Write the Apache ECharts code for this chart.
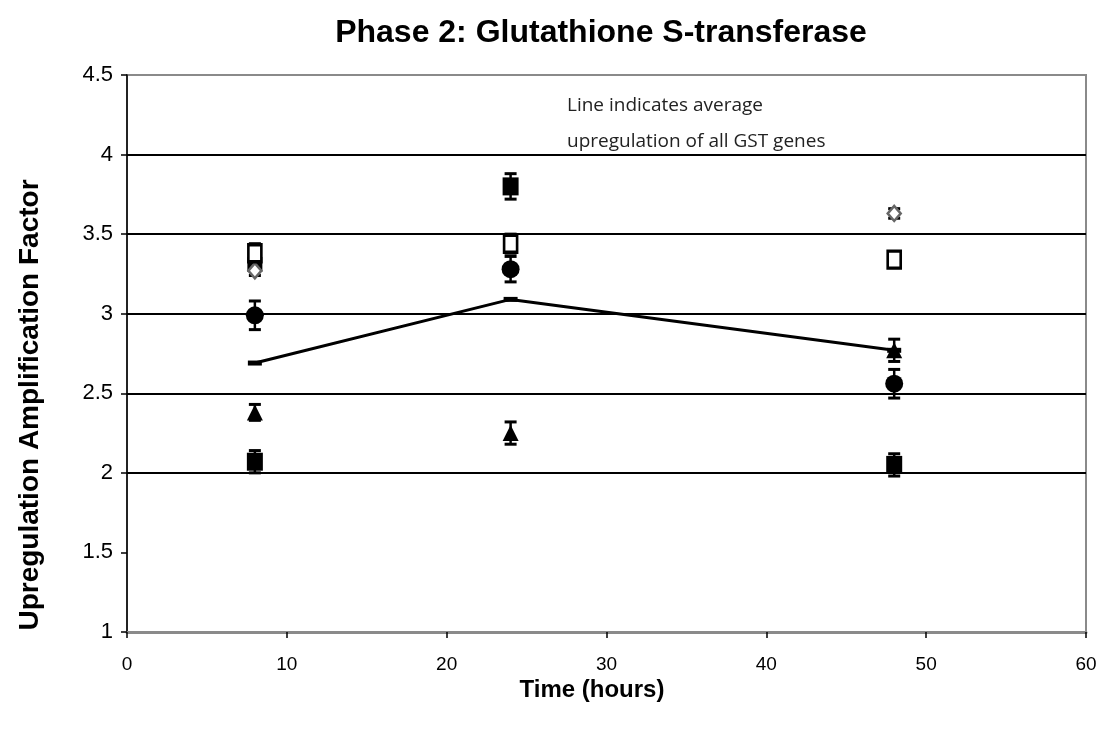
<!DOCTYPE html>
<html>
<head>
<meta charset="utf-8">
<script src="https://cdn.jsdelivr.net/npm/echarts@6/dist/echarts.min.js"></script>
<style>
  html, body { margin: 0; padding: 0; background: #fff; }
  #chart { width: 1102px; height: 736px; }
</style>
</head>
<body>
<div id="chart"></div>
<script>
// Time points (hours)
const hours = [8, 24, 48]

// Gene series (null = hidden / not visible)
const filledSquare = [2.07, 3.80, 2.05]
const filledSquareErr = [0.07, 0.08, 0.07]
const openSquare = [3.38, 3.44, 3.34]
const openSquareErr = [0.06, 0.06, 0.05]
const filledCircle = [2.99, 3.28, 2.56]
const filledCircleErr = [0.09, 0.08, 0.09]
const filledTriangle = [2.38, 2.25, 2.77]
const filledTriangleErr = [0.05, 0.07, 0.07]
const greyDiamond = [3.27, null, 3.63]
const greyDiamondErr = [0.03, 0, 0.03]
const hiddenSquare = [3.31, null, null]

// Average upregulation of all GST genes
const average = [2.69, 3.09, 2.77]

// Horizontal reference lines
const gridLines = [2, 2.5, 3, 3.5, 4]

const toPoints = vals => hours.map((h, i) => [h, vals[i]]).filter(p => p[1] != null)
const toErr = (vals, errs) => hours.map((h, i) => [h, vals[i], errs[i]]).filter(p => p[1] != null)

function errorBar(params, api) {
  const x = api.value(0)
  const y = api.value(1)
  const e = api.value(2)
  const top = api.coord([x, y + e])
  const bot = api.coord([x, y - e])
  const hw = 6
  const capStyle = { stroke: '#000', lineWidth: 3 }
  return {
    type: 'group',
    children: [
      { type: 'line', shape: { x1: top[0], y1: top[1], x2: bot[0], y2: bot[1] }, style: { stroke: '#000', lineWidth: 2.5 } },
      { type: 'line', shape: { x1: top[0] - hw, y1: top[1], x2: top[0] + hw, y2: top[1] }, style: capStyle },
      { type: 'line', shape: { x1: bot[0] - hw, y1: bot[1], x2: bot[0] + hw, y2: bot[1] }, style: capStyle },
    ],
  }
}

const errSeries = (vals, errs) => ({
  type: 'custom',
  renderItem: errorBar,
  data: toErr(vals, errs),
  encode: { x: 0, y: 1 },
  z: 3,
  silent: true,
})

const scatter = (vals, symbol, size, fill, stroke, bw) => ({
  type: 'scatter',
  data: toPoints(vals),
  symbol,
  symbolSize: size,
  itemStyle: { color: fill, borderColor: stroke, borderWidth: bw, opacity: 1 },
  z: 4,
})

const chart = echarts.init(document.getElementById('chart'))

chart.setOption({
  animation: false,
  backgroundColor: '#fff',
  grid: {
    left: 127, right: 16, top: 75, bottom: 104,
    show: true, borderColor: '#8a8a8a', borderWidth: 2,
  },
  graphic: [
    {
      type: 'text', x: 601, y: 17,
      style: {
        text: 'Phase 2: Glutathione S-transferase',
        font: 'bold 32px "Liberation Sans", Arial, sans-serif',
        fill: '#000', textAlign: 'center',
      },
    },
    {
      type: 'text', x: 567, y: 88,
      style: {
        text: 'Line indicates average\nupregulation of all GST genes',
        font: '19px "Open Sans", "Noto Sans", sans-serif',
        lineHeight: 36, fill: '#222',
      },
    },
    {
      type: 'text', x: 30, y: 405, rotation: Math.PI / 2,
      style: {
        text: 'Upregulation Amplification Factor',
        font: 'bold 28px "Liberation Sans", Arial, sans-serif',
        fill: '#000', textAlign: 'center', textVerticalAlign: 'middle',
      },
    },
    {
      type: 'text', x: 592, y: 690,
      style: {
        text: 'Time (hours)',
        font: 'bold 24px "Liberation Sans", Arial, sans-serif',
        fill: '#000', textAlign: 'center', textVerticalAlign: 'middle',
      },
    },
  ],
  xAxis: {
    type: 'value', min: 0, max: 60, interval: 10,
    axisLine: { show: true, lineStyle: { color: '#8a8a8a', width: 3 } },
    axisTick: { show: true, inside: false, length: 6, lineStyle: { color: '#000', width: 1.5 } },
    axisLabel: { fontSize: 19, color: '#000', margin: 23, fontFamily: '"Liberation Sans Narrow", "Liberation Sans", Arial' },
    splitLine: { show: false },
  },
  yAxis: {
    type: 'value', min: 1, max: 4.5, interval: 0.5,
    axisLine: { show: true, lineStyle: { color: '#000', width: 1.5 } },
    axisTick: { show: true, length: 6, lineStyle: { color: '#000', width: 1.5 } },
    axisLabel: { fontSize: 22, color: '#000', margin: 14, fontFamily: '"Liberation Sans", Arial' },
    splitLine: { show: false },
  },
  series: [
    {
      type: 'line',
      data: [],
      markLine: {
        silent: true, symbol: 'none', label: { show: false },
        lineStyle: { color: '#000', width: 2, type: 'solid' },
        data: gridLines.map(v => ({ yAxis: v })),
      },
      z: 1,
    },
    {
      type: 'line',
      data: toPoints(average),
      symbol: 'rect', symbolSize: [14, 5],
      itemStyle: { color: '#000' },
      lineStyle: { color: '#000', width: 3 },
      z: 2,
    },
    errSeries(filledSquare, filledSquareErr),
    errSeries(openSquare, openSquareErr),
    errSeries(filledCircle, filledCircleErr),
    errSeries(filledTriangle, filledTriangleErr),
    errSeries(greyDiamond, greyDiamondErr),
    scatter(hiddenSquare, 'rect', [15, 15], '#000', '#000', 0),
    scatter(greyDiamond, 'diamond', [13, 15], '#fff', '#666', 2.5),
    scatter(filledSquare, 'rect', [16, 18], '#000', '#000', 0),
    scatter(openSquare, 'rect', [13, 17], '#fff', '#000', 3),
    scatter(filledCircle, 'circle', 18, '#000', '#000', 0),
    scatter(filledTriangle, 'triangle', [16, 16], '#000', '#000', 0),
  ],
})
</script>
</body>
</html>
